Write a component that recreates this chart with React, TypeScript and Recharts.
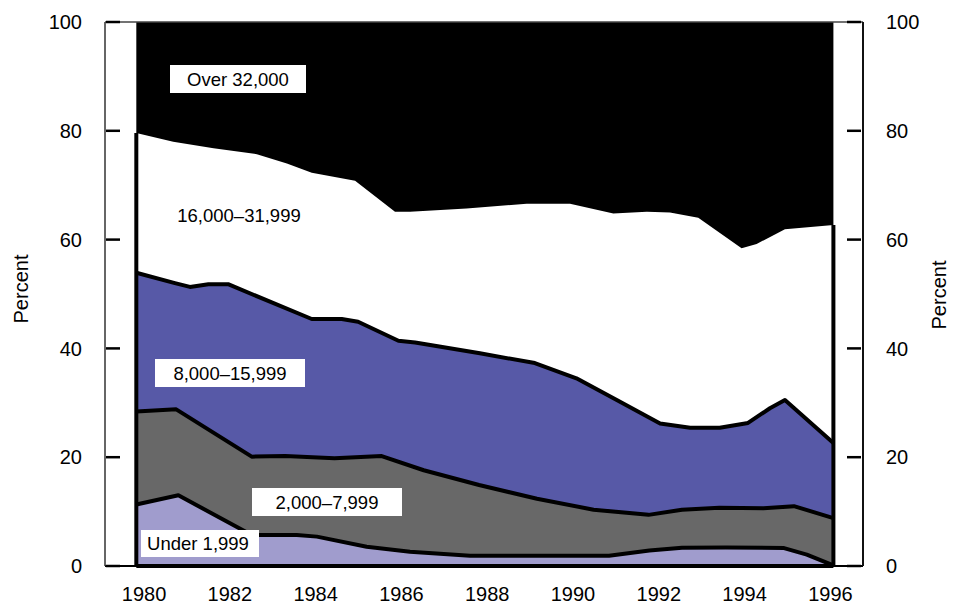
import React from 'react';
import { ComposedChart, Area, XAxis, YAxis, ReferenceLine } from 'recharts';

// Tick labels
const xTicks = [1980, 1982, 1984, 1986, 1988, 1990, 1992, 1994, 1996];
const yTicks = [0, 20, 40, 60, 80, 100];

// Series boundaries (cumulative percent of returns)
const spanYears = [1979.82, 1996.07];
const fullPct = [100, 100];

const to32000Years = [1979.82, 1980.68, 1981.62, 1982.63, 1983.33, 1983.91, 1984.92, 1985.85, 1986.2, 1987.52, 1988.92, 1989.93, 1990.94, 1991.72, 1992.26, 1992.92, 1993.93, 1994.28, 1994.94, 1996.07];
const to32000Pct = [79.6, 78.0, 76.8, 75.7, 74.0, 72.3, 70.8, 65.1, 65.1, 65.7, 66.6, 66.6, 64.8, 65.1, 65.0, 64.0, 58.4, 59.2, 61.9, 62.7];

const to16000Years = [1979.82, 1980.72, 1981.07, 1981.5, 1981.96, 1983.91, 1984.61, 1984.99, 1985.93, 1986.32, 1987.83, 1989.11, 1990.08, 1991.02, 1992.03, 1992.73, 1993.42, 1994.08, 1994.59, 1994.94, 1996.07];
const to16000Pct = [53.9, 52.0, 51.3, 51.8, 51.8, 45.4, 45.4, 44.9, 41.4, 41.1, 39.1, 37.3, 34.5, 30.5, 26.2, 25.4, 25.4, 26.3, 29.0, 30.5, 22.6];

const to8000Years = [1979.82, 1980.75, 1982.51, 1983.29, 1984.44, 1985.54, 1986.52, 1987.81, 1989.16, 1990.48, 1991.76, 1992.54, 1993.41, 1994.44, 1995.15, 1996.07];
const to8000Pct = [28.4, 28.8, 20.1, 20.2, 19.8, 20.2, 17.6, 14.9, 12.35, 10.35, 9.4, 10.35, 10.7, 10.6, 11.0, 8.8];

const to2000Years = [1979.82, 1980.8, 1982.51, 1983.56, 1984.03, 1985.19, 1986.2, 1987.6, 1989.3, 1990.84, 1991.78, 1992.54, 1993.56, 1994.92, 1995.45, 1996.07];
const to2000Pct = [11.3, 13.0, 5.7, 5.7, 5.4, 3.55, 2.6, 1.9, 1.9, 1.9, 2.85, 3.35, 3.4, 3.3, 2.1, 0.1];

const categories = ['Over 32,000', '16,000–31,999', '8,000–15,999', '2,000–7,999', 'Under 1,999'];

const toRows = (xs: number[], vs: number[]) => xs.map((x, i) => ({ x, v: vs[i] }));

const FONT = '"Liberation Sans", Arial, Helvetica, sans-serif';

const LeftTick = (props: any) => {
  const { x, y, payload } = props;
  const ax = x + 23;
  return (
    <g>
      <line x1={ax + 1} x2={ax + 15} y1={y} y2={y} stroke="#000" strokeWidth={2.5} />
      <text x={x} y={y} dy="0.36em" textAnchor="end" fontSize={20} fill="#000" fontFamily={FONT}>
        {payload.value}
      </text>
    </g>
  );
};

const RightTick = (props: any) => {
  const { x, y, payload } = props;
  const ax = x - 23;
  return (
    <g>
      <line x1={ax - 16} x2={ax - 2} y1={y} y2={y} stroke="#000" strokeWidth={2.5} />
      <text x={x} y={y} dy="0.36em" textAnchor="start" fontSize={20} fill="#000" fontFamily={FONT}>
        {payload.value}
      </text>
    </g>
  );
};

export default function App() {
  const W = 943;
  const H = 598;
  const start = spanYears[0];
  const end = spanYears[spanYears.length - 1];
  return (
    <div style={{ position: 'relative', width: W, height: H, fontFamily: FONT }}>
      <ComposedChart width={W} height={H} margin={{ top: 14, right: 28, bottom: 0, left: 37 }}>
        <XAxis
          type="number"
          dataKey="x"
          domain={[1979.09, 1996.76]}
          ticks={xTicks}
          allowDataOverflow
          height={40}
          tickSize={0}
          tickMargin={21}
          tickLine={false}
          axisLine={{ stroke: '#000', strokeWidth: 2 }}
          tick={{ fill: '#000', fontSize: 20, fontFamily: FONT }}
        />
        <YAxis
          yAxisId="left"
          orientation="left"
          type="number"
          domain={[0, 100]}
          ticks={yTicks}
          width={60}
          tickSize={0}
          tickMargin={23}
          tickLine={false}
          axisLine={{ stroke: '#333', strokeWidth: 1.5 }}
          tick={<LeftTick />}
        />
        <YAxis
          yAxisId="right"
          orientation="right"
          type="number"
          domain={[0, 100]}
          ticks={yTicks}
          width={60}
          tickSize={0}
          tickMargin={23}
          tickLine={false}
          axisLine={{ stroke: '#111', strokeWidth: 2 }}
          tick={<RightTick />}
        />
        <Area yAxisId="left" data={toRows(spanYears, fullPct)} dataKey="v" name={categories[0]} type="linear" fill="#000" fillOpacity={1} stroke="none" isAnimationActive={false} />
        <Area yAxisId="left" data={toRows(to32000Years, to32000Pct)} dataKey="v" name={categories[1]} type="linear" fill="#fff" fillOpacity={1} stroke="none" isAnimationActive={false} />
        <Area yAxisId="left" data={toRows(to16000Years, to16000Pct)} dataKey="v" name={categories[2]} type="linear" fill="#5759a7" fillOpacity={1} stroke="#000" strokeWidth={4} strokeLinejoin="round" isAnimationActive={false} />
        <Area yAxisId="left" data={toRows(to8000Years, to8000Pct)} dataKey="v" name={categories[3]} type="linear" fill="#686868" fillOpacity={1} stroke="#000" strokeWidth={4} strokeLinejoin="round" isAnimationActive={false} />
        <Area yAxisId="left" data={toRows(to2000Years, to2000Pct)} dataKey="v" name={categories[4]} type="linear" fill="#a09ccd" fillOpacity={1} stroke="#000" strokeWidth={4} strokeLinejoin="round" isAnimationActive={false} />
        <Area yAxisId="right" data={toRows(spanYears, fullPct)} dataKey="v" type="linear" fill="none" stroke="none" isAnimationActive={false} legendType="none" />
        <ReferenceLine yAxisId="left" y={100} stroke="#444" strokeWidth={1.5} />
        <ReferenceLine yAxisId="left" segment={[{ x: start, y: 0 }, { x: start, y: to32000Pct[0] }]} stroke="#000" strokeWidth={4} />
        <ReferenceLine yAxisId="left" segment={[{ x: end, y: 0 }, { x: end, y: to32000Pct[to32000Pct.length - 1] }]} stroke="#000" strokeWidth={4} />
        <ReferenceLine yAxisId="left" segment={[{ x: start, y: 0 }, { x: end, y: 0 }]} stroke="#000" strokeWidth={4} />
      </ComposedChart>
      <svg width={W} height={H} style={{ position: 'absolute', left: 0, top: 0, pointerEvents: 'none' }}>
        <g fontFamily={FONT} fill="#000" fontSize={18.5}>
          <rect x={162} y={57} width={136} height={28} fill="#fff" />
          <text x={230} y={71} dy="0.36em" textAnchor="middle">{categories[0]}</text>
          <text x={231} y={207} dy="0.36em" textAnchor="middle" fontSize={18.5}>{categories[1]}</text>
          <rect x={147} y={351} width={150} height={28} fill="#fff" />
          <text x={222} y={365} dy="0.36em" textAnchor="middle">{categories[2]}</text>
          <rect x={244} y={480} width={150} height={28} fill="#fff" />
          <text x={319} y={494} dy="0.36em" textAnchor="middle">{categories[3]}</text>
          <rect x={133} y={522} width={118} height={27} fill="#fff" />
          <text x={190} y={535.5} dy="0.36em" textAnchor="middle">{categories[4]}</text>
          <text transform="translate(20.3,281) rotate(-90)" textAnchor="middle" fontSize={20}>Percent</text>
          <text transform="translate(938,287) rotate(-90)" textAnchor="middle" fontSize={20}>Percent</text>
        </g>
      </svg>
    </div>
  );
}
